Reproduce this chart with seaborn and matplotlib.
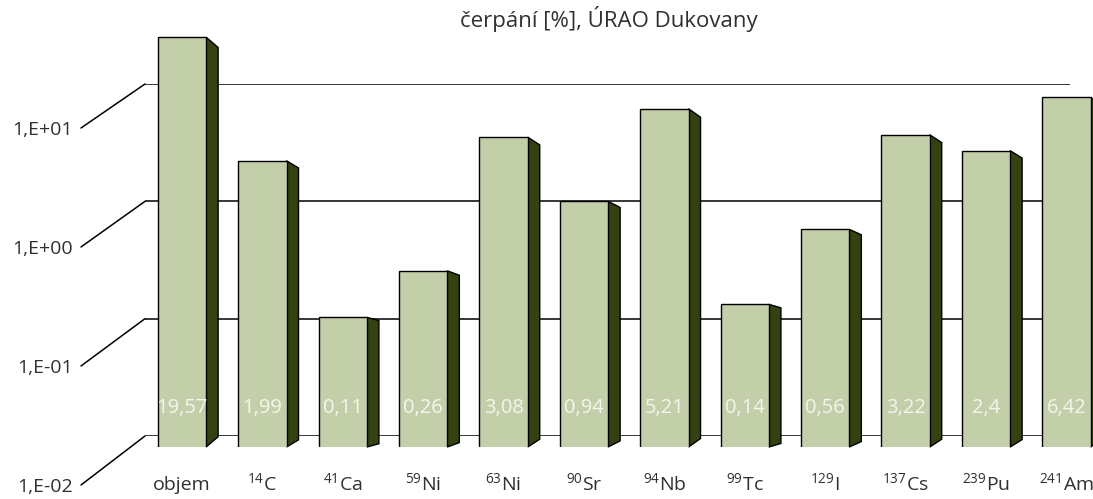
import numpy as np
import pandas as pd
import matplotlib
matplotlib.use("Agg")
import matplotlib.pyplot as plt
import matplotlib.transforms as mtransforms
from matplotlib.patches import Polygon, ConnectionPatch
import seaborn as sns

# ---- data ----
categories = ["objem", "$^{14}$C", "$^{41}$Ca", "$^{59}$Ni", "$^{63}$Ni", "$^{90}$Sr",
              "$^{94}$Nb", "$^{99}$Tc", "$^{129}$I", "$^{137}$Cs", "$^{239}$Pu", "$^{241}$Am"]
values = [19.57, 1.99, 0.11, 0.26, 3.08, 0.94, 5.21, 0.14, 0.56, 3.22, 2.4, 6.42]
value_labels = ["19,57", "1,99", "0,11", "0,26", "3,08", "0,94", "5,21", "0,14",
                "0,56", "3,22", "2,4", "6,42"]
tick_values = [0.01, 0.1, 1, 10]
tick_labels = ["1,E-02", "1,E-01", "1,E+00", "1,E+01"]
title = "čerpání [%], ÚRAO Dukovany"

# ---- style ----
sns.set_style("white")
plt.rcParams["font.family"] = ["Open Sans", "DejaVu Sans"]
plt.rcParams["mathtext.fontset"] = "custom"
plt.rcParams["mathtext.rm"] = "Open Sans"
plt.rcParams["mathtext.it"] = "Open Sans:italic"
plt.rcParams["mathtext.bf"] = "Open Sans:bold"

FRONT = "#C3CFA9"
SIDE = "#344211"
TXT = "#303030"

W, H = 1093, 499
fig = plt.figure(figsize=(W / 100, H / 100), dpi=100)
fig.patch.set_facecolor("white")

def frac(x0, ytop, x1, ybot):
    return [x0 / W, (H - ybot) / H, (x1 - x0) / W, (ybot - ytop) / H]

# back wall with gridlines
ax_wall = fig.add_axes(frac(145, 84, 1070, 436))
ax_wall.set_yscale("log")
ax_wall.set_ylim(tick_values[0], tick_values[-1])
ax_wall.set_xlim(0, 1)
ax_wall.hlines(tick_values, 0, 1, color="black", lw=1.1)
ax_wall.axis("off")

# front (label) axis
ax_front = fig.add_axes(frac(81, 128, 82, 485))
ax_front.set_yscale("log")
ax_front.set_ylim(tick_values[0], tick_values[-1])
ax_front.set_xlim(0, 1)
ax_front.set_yticks(tick_values)
ax_front.set_yticklabels(tick_labels)
ax_front.yaxis.set_minor_locator(matplotlib.ticker.NullLocator())
ax_front.tick_params(axis="y", length=0, pad=6, labelsize=14, labelcolor=TXT)
ax_front.set_xticks([])
for s in ax_front.spines.values():
    s.set_visible(False)
ax_front.patch.set_alpha(0)

for v in tick_values:
    con = ConnectionPatch(xyA=(0, v), coordsA=ax_front.transData,
                          xyB=(0, v), coordsB=ax_wall.transData,
                          color="black", lw=1.1)
    fig.add_artist(con)

# bars
pitch = 80.4
x_left = 182 - pitch / 2
ax = fig.add_axes([x_left / W, (H - 447) / H, pitch * 12 / W, 447 / H])
df = pd.DataFrame({"cat": categories, "val": values})
sns.barplot(data=df, x="cat", y="val", color=FRONT, saturation=1, width=0.6,
            edgecolor="black", linewidth=1.0, errorbar=None, ax=ax, zorder=3)
ax.set_yscale("log")
px_per_decade = 124.5
ax.set_ylim(0.01, 0.01 * 10 ** (447 / px_per_decade))
ax.set_xlim(-0.5, 11.5)
ax.patch.set_alpha(0)
for s in ax.spines.values():
    s.set_visible(False)
ax.set_yticks([])
ax.yaxis.set_minor_locator(matplotlib.ticker.NullLocator())
ax.set_xlabel("")
ax.set_ylabel("")
ax.tick_params(axis="x", length=0, pad=31, labelsize=14, labelcolor=TXT)
for lbl in ax.get_xticklabels():
    lbl.set_va("baseline")

# side faces derived from the bar geometry
depth = 12
inv = ax.transData.inverted()
ybot = ax.transAxes.transform((0, 0))[1]
for p in list(ax.patches):
    x0, w, top = p.get_x(), p.get_width(), p.get_y() + p.get_height()
    xr, yt = ax.transData.transform((x0 + w, top))
    h = yt - ybot
    pts_disp = np.array([[xr, yt], [xr + depth, yt - 0.025 * h],
                         [xr + depth, ybot + 0.025 * h], [xr, ybot]])
    pts = inv.transform(pts_disp)
    ax.add_patch(Polygon(pts, closed=True, facecolor=SIDE, edgecolor="black",
                         lw=1.0, zorder=2.5, clip_on=False))

# value labels
blend = mtransforms.blended_transform_factory(ax.transData, ax.transAxes)
for i, t in enumerate(value_labels):
    ax.text(i, 34 / 447, t, transform=blend, ha="center", va="baseline",
            fontsize=14.5, color="#F4F6EE", zorder=5)

fig.text(609 / W, (H - 27) / H, title, ha="center", va="baseline",
         fontsize=16, color=TXT)

fig.savefig("out.png", dpi=100)
